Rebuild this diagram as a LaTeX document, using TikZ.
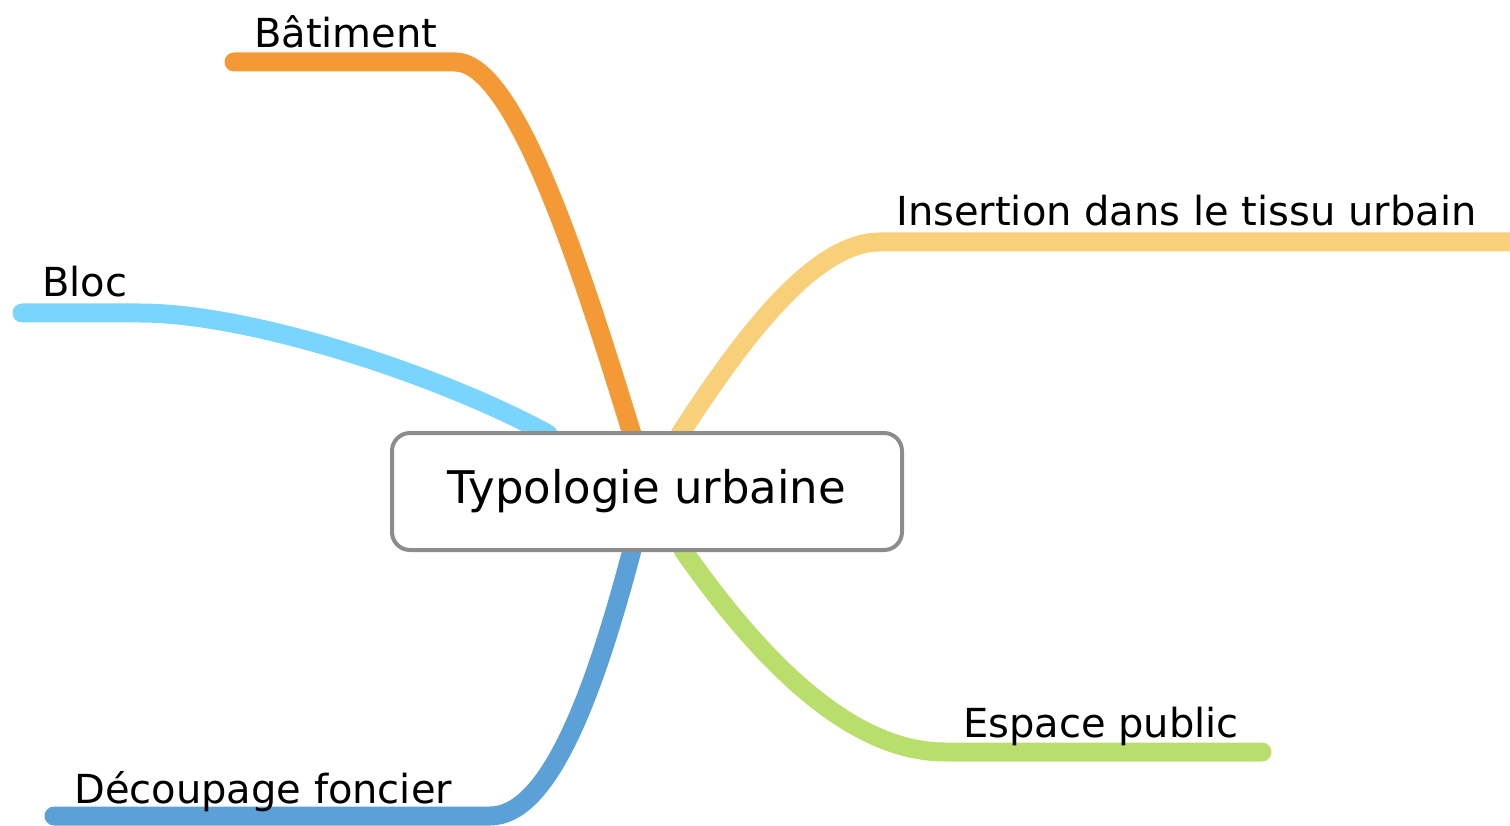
\documentclass[tikz,border=0pt]{standalone}
\usepackage{fontspec}
\setmainfont{DejaVu Sans}
\definecolor{cOrange}{HTML}{F39A37}
\definecolor{cSky}{HTML}{79D5FD}
\definecolor{cYellow}{HTML}{F9D07A}
\definecolor{cBlue}{HTML}{5CA0D8}
\definecolor{cGreen}{HTML}{B9DE6B}
\definecolor{cBorder}{HTML}{8C8C8C}
\begin{document}
\begin{tikzpicture}[x=1pt,y=-1pt,
  branch/.style={line width=19pt,line cap=round,draw=#1},
  leaf/.style={anchor=base west,inner sep=0pt,font=\fontsize{40}{44}\selectfont},
  centerbox/.style={draw=cBorder,line width=4pt,rounded corners=18pt,fill=white,
    minimum width=510pt,minimum height=117pt,inner sep=0pt,font=\fontsize{45}{50}\selectfont}]
\useasboundingbox (0,0) rectangle (1510,826);
% anchors under the box
\coordinate (sO) at (632,434);
\coordinate (sS) at (548,434);
\coordinate (sY) at (680,434);
\coordinate (sB) at (632,550);
\coordinate (sG) at (683,550);
% free ends
\coordinate (kO) at (455,62);  \coordinate (eO) at (234,62);
\coordinate (kS) at (140,313); \coordinate (eS) at (22,313);
\coordinate (kY) at (880,242); \coordinate (eY) at (1520,242);
\coordinate (kB) at (490,816); \coordinate (eB) at (54,816);
\coordinate (kG) at (945,752); \coordinate (eG) at (1262,752);
% branches
\draw[branch=cOrange] (sO) .. controls (580,265) and (515,62) .. (kO) -- (eO);
\draw[branch=cSky] (sS) .. controls (440,375) and (250,313) .. (kS) -- (eS);
\draw[branch=cYellow] (sY) .. controls (735,350) and (810,242) .. (kY) -- (eY);
\draw[branch=cBlue] (sB) .. controls (590,710) and (545,816) .. (kB) -- (eB);
\draw[branch=cGreen] (sG) .. controls (760,660) and (850,752) .. (kG) -- (eG);
% center
\node[centerbox] (c) at (647,491.5) {\raisebox{-4pt}{Typologie urbaine}};
% labels
\node[leaf] (lO) at (254,48) {Bâtiment};
\node[leaf] (lS) at (42,297) {Bloc};
\node[leaf] (lY) at (896,226) {Insertion dans le tissu urbain};
\node[leaf] (lB) at (74,803) {Découpage foncier};
\node[leaf] (lG) at (963,737) {Espace public};
\end{tikzpicture}
\end{document}
